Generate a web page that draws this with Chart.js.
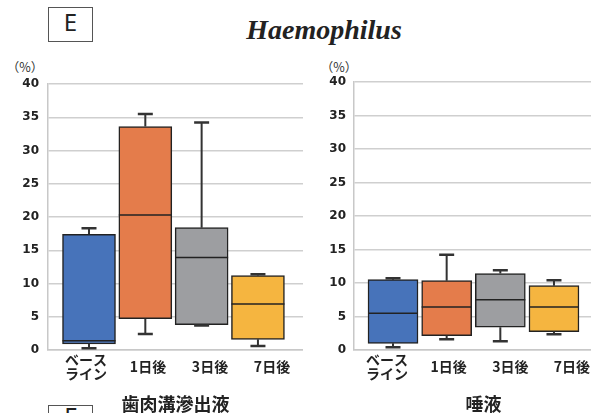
<!DOCTYPE html>
<html>
<head>
<meta charset="utf-8">
<script src="https://cdn.jsdelivr.net/npm/chart.js@4/dist/chart.umd.min.js"></script>
<style>
  html, body { margin: 0; padding: 0; background: #fff; }
  body { position: relative; width: 591px; height: 413px; overflow: hidden; }
  canvas { position: absolute; top: 0; }
  #gcf { left: 0; }
  #saliva { left: 303px; }
  .panel-tag {
    position: absolute; box-sizing: border-box; width: 45px; height: 35px;
    border: 1.5px solid #555; background: #fff;
  }
  .panel-tag span {
    position: absolute; left: 0; width: 100%; text-align: center;
    font: 24px/24px "Noto Sans", sans-serif; color: #222;
  }
  .genus {
    position: absolute; left: 200px; width: 248px; top: 16px; text-align: center;
    font: italic bold 28px/28px "Liberation Serif", serif; color: #222;
  }
  .unit {
    position: absolute; width: 40px; text-align: center; top: 60px;
    font: 12.5px/14px "Noto Sans CJK JP", sans-serif; color: #333;
  }
</style>
</head>
<body>
<div class="panel-tag" style="left:48px;top:7px"><span style="top:2px">E</span></div>
<div class="genus">Haemophilus</div>
<div class="unit" style="left:5px">（%）</div>
<div class="unit" style="left:319px">（%）</div>
<div class="panel-tag" style="left:48px;top:405px"><span style="top:-2px">F</span></div>

<canvas id="gcf" width="303" height="413"></canvas>
<canvas id="saliva" width="310" height="413"></canvas>

<script>
// Sampling days
const categories = ["ベースライン", "1日後", "3日後", "7日後"];
const categoryLines = [["ベース", "ライン"], "1日後", "3日後", "7日後"];
const boxColors = ["#4773BA", "#E47C4B", "#9D9EA1", "#F5B540"];
const yTicks = [0, 5, 10, 15, 20, 25, 30, 35, 40];

// Gingival crevicular fluid: five-number summaries (%)
const gcfMin    = [0.25, 2.4, 3.7, 0.6];
const gcfQ1     = [0.9, 4.7, 3.8, 1.6];
const gcfMedian = [1.4, 20.3, 13.9, 6.9];
const gcfQ3     = [17.4, 33.6, 18.4, 11.2];
const gcfMax    = [18.3, 35.5, 34.2, 11.4];

// Saliva: five-number summaries (%)
const salMin    = [0.4, 1.6, 1.3, 2.35];
const salQ1     = [1.0, 2.15, 3.4, 2.75];
const salMedian = [5.5, 6.4, 7.5, 6.4];
const salQ3     = [10.5, 10.35, 11.4, 9.6];
const salMax    = [10.7, 14.2, 11.9, 10.4];

// Whiskers, caps and median lines, placed with the chart's own scales
const whiskerPlugin = {
  id: 'whiskers',
  afterDatasetsDraw(chart, args, opts) {
    const ctx = chart.ctx;
    const xs = chart.scales.xb, ys = chart.scales.y;
    const st = opts.stats;
    ctx.save();
    st.median.forEach((m, i) => {
      const x = xs.getPixelForValue(i + 1);
      const half = opts.boxWidth / 2;
      const pMin = ys.getPixelForValue(st.min[i]);
      const pQ1 = ys.getPixelForValue(st.q1[i]);
      const pQ3 = ys.getPixelForValue(st.q3[i]);
      const pMax = ys.getPixelForValue(st.max[i]);
      const pMed = ys.getPixelForValue(m);
      ctx.strokeStyle = '#333';
      ctx.lineWidth = 2;
      ctx.beginPath();
      ctx.moveTo(x, pQ3); ctx.lineTo(x, pMax);
      ctx.moveTo(x, pQ1); ctx.lineTo(x, pMin);
      ctx.stroke();
      ctx.lineWidth = 2.5;
      ctx.beginPath();
      ctx.moveTo(x - 7.5, pMax); ctx.lineTo(x + 7.5, pMax);
      ctx.moveTo(x - 7.5, pMin); ctx.lineTo(x + 7.5, pMin);
      ctx.stroke();
      ctx.strokeStyle = '#222';
      ctx.lineWidth = 1.5;
      ctx.beginPath();
      ctx.moveTo(x - half, pMed); ctx.lineTo(x + half, pMed);
      ctx.stroke();
    });
    ctx.restore();
  }
};

function makeChart(id, stats, title, opt) {
  const boxes = stats.q1.map((q1, i) => ({ x: i + 1, y: [q1, stats.q3[i]] }));
  return new Chart(document.getElementById(id), {
    type: 'bar',
    data: {
      datasets: [{
        data: boxes,
        xAxisID: 'xb',
        backgroundColor: boxColors,
        borderColor: '#222',
        borderWidth: 1.5,
        borderSkipped: false,
        barThickness: opt.boxWidth
      }]
    },
    options: {
      responsive: false,
      animation: false,
      devicePixelRatio: 1,
      layout: { padding: { top: opt.top, left: 0, right: 0, bottom: 0 } },
      plugins: {
        legend: { display: false },
        tooltip: { enabled: false },
        whiskers: { stats: stats, boxWidth: opt.boxWidth }
      },
      scales: {
        xb: {
          type: 'linear', display: false, offset: false,
          grid: { offset: false },
          min: opt.boxMin, max: opt.boxMax
        },
        x: {
          type: 'linear', position: 'bottom', offset: false,
          min: opt.labelMin, max: opt.labelMax,
          grid: { display: false, drawTicks: false, offset: false },
          border: { display: true, color: '#c8c8c8', width: 1.5 },
          afterBuildTicks: (s) => { s.ticks = categories.map((c, i) => ({ value: i + 1 })); },
          afterFit: (s) => { s.height = 63; },
          ticks: {
            autoSkip: false, maxRotation: 0, minRotation: 0,
            crossAlign: 'center', padding: 9.5, color: '#222',
            font: { family: "'Noto Sans CJK JP', sans-serif", size: 14, weight: 'bold', lineHeight: 0.98 },
            callback: (v) => categoryLines[v - 1]
          },
          title: {
            display: true, text: title, color: '#222', padding: 0,
            font: { family: "'Noto Sans CJK JP', sans-serif", size: 18, weight: 'bold', lineHeight: 1 }
          }
        },
        y: {
          min: 0, max: 40,
          afterBuildTicks: (s) => { s.ticks = yTicks.map(v => ({ value: v })); },
          afterFit: (s) => { s.width = opt.axisWidth; },
          grid: { color: '#cfcfcf', lineWidth: 1.5, drawTicks: false },
          border: { display: true, color: '#c8c8c8', width: 1.5 },
          ticks: {
            padding: opt.tickPad, color: '#222',
            font: { family: "'DejaVu Sans', sans-serif", size: 12, weight: 'bold' }
          }
        }
      }
    },
    plugins: [whiskerPlugin]
  });
}

makeChart('gcf',
  { min: gcfMin, q1: gcfQ1, median: gcfMedian, q3: gcfQ3, max: gcfMax },
  '歯肉溝滲出液',
  { top: 84, axisWidth: 48, tickPad: 9, boxWidth: 53,
    boxMin: 0.272, boxMax: 4.80, labelMin: 0.387, labelMax: 4.5 });

makeChart('saliva',
  { min: salMin, q1: salQ1, median: salMedian, q3: salQ3, max: salMax },
  '唾液',
  { top: 82, axisWidth: 51, tickPad: 8, boxWidth: 50,
    boxMin: 0.273, boxMax: 5.10, labelMin: 0.465, labelMax: 4.665 });
</script>
</body>
</html>
